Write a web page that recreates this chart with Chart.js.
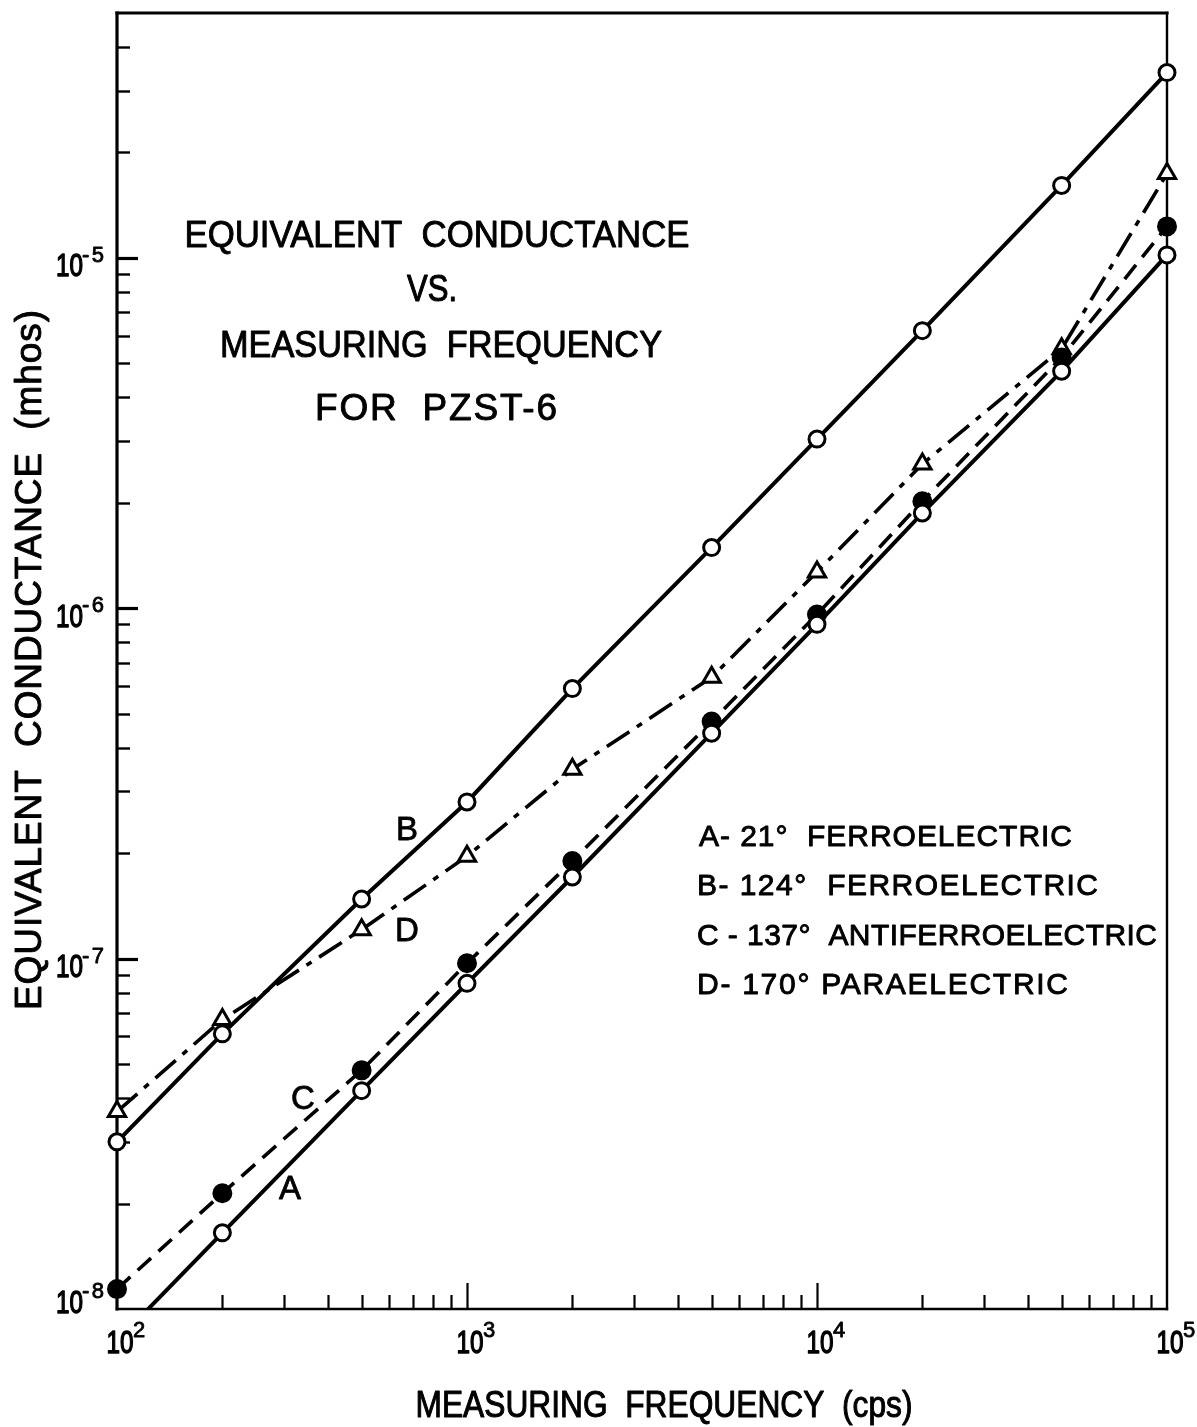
<!DOCTYPE html>
<html><head><meta charset="utf-8">
<script src="https://cdn.jsdelivr.net/npm/chart.js@4.4.0/dist/chart.umd.min.js"></script>
<style>html,body{margin:0;padding:0;background:#fff;overflow:hidden}#wrap{width:1197px;height:1427px;position:relative}</style>
</head><body><div id="wrap"><canvas id="c" width="1197" height="1427"></canvas></div>
<script>
// ---------- data ----------
const frequencies = [100, 200, 500, 1000, 2000, 5000, 10000, 20000, 50000, 100000];
const seriesA = [8.1e-9, 1.65e-8, 4.2e-8, 8.5e-8, 1.71e-7, 4.4e-7, 9.0e-7, 1.87e-6, 4.75e-6, 1.02e-5];
const seriesB = [3.0e-8, 6.1e-8, 1.48e-7, 2.8e-7, 5.9e-7, 1.49e-6, 3.04e-6, 6.2e-6, 1.61e-5, 3.38e-5];
const seriesC = [1.14e-8, 2.14e-8, 4.8e-8, 9.7e-8, 1.9e-7, 4.75e-7, 9.6e-7, 2.02e-6, 5.2e-6, 1.23e-5];
const seriesD = [3.66e-8, 6.7e-8, 1.21e-7, 1.96e-7, 3.47e-7, 6.35e-7, 1.27e-6, 2.58e-6, 5.5e-6, 1.74e-5];
const xTickExponents = [2, 3, 4, 5];
const yTickExponents = [-8, -7, -6, -5];
const xRange = [100, 100000];
const yRange = [1e-8, 5e-5];
const titleLines = ['EQUIVALENT  CONDUCTANCE', 'VS.', 'MEASURING  FREQUENCY', 'FOR  PZST-6'];
const legendLines = ['A- 21°  FERROELECTRIC', 'B- 124°  FERROELECTRIC', 'C - 137°  ANTIFERROELECTRIC', 'D- 170° PARAELECTRIC'];
const xAxisTitle = 'MEASURING  FREQUENCY  (cps)';
const yAxisTitle = 'EQUIVALENT  CONDUCTANCE  (mhos)';
const curveNames = ['A', 'B', 'C', 'D'];
// label anchor points in data units (frequency, conductance)
const curveLabelAnchorsF = [312, 674, 340, 674];
const curveLabelAnchorsG = [2.19e-8, 2.31e-7, 3.96e-8, 1.19e-7];

const pts = arr => frequencies.map((f, i) => ({x: f, y: arr[i]}));
const FONT = '"Liberation Sans", Arial, sans-serif';
const INK = '#000';

function drawFit(ctx, str, x, y, size, align, width, weight) {
  ctx.save();
  ctx.font = size + 'px ' + FONT;
  ctx.textBaseline = 'middle';
  ctx.textAlign = 'left';
  ctx.fillStyle = INK;
  ctx.strokeStyle = INK;
  ctx.lineJoin = 'round';
  const hasLS = ('letterSpacing' in ctx);
  if (hasLS) ctx.letterSpacing = '0px';
  const w0 = ctx.measureText(str).width;
  let sx = 1, ls = 0;
  if (width) {
    if (w0 > width || !hasLS) sx = width / w0;
    else ls = (width - w0) / Math.max(1, str.length - 1);
  }
  if (hasLS) ctx.letterSpacing = ls + 'px';
  const w = width ? width : w0;
  const left = align === 'left' ? x : (align === 'right' ? x - w : x - w / 2);
  ctx.translate(left, y);
  ctx.scale(sx, 1);
  ctx.fillText(str, 0, 0);
  ctx.lineWidth = (weight === undefined ? 0.8 : weight) / sx;
  if (ctx.lineWidth > 0) ctx.strokeText(str, 0, 0);
  ctx.restore();
}

const axesPlugin = {
  id: 'axesPlugin',
  beforeDatasetsDraw(chart) {
    const {ctx, chartArea: a, scales: {x, y}} = chart;
    ctx.save();
    ctx.strokeStyle = INK;
    ctx.lineCap = 'square';
    // frame
    ctx.lineWidth = 3.2;
    ctx.beginPath(); ctx.moveTo(a.left, a.top); ctx.lineTo(a.left, a.bottom); ctx.stroke();
    ctx.beginPath(); ctx.moveTo(a.left, a.top); ctx.lineTo(a.right, a.top); ctx.stroke();
    ctx.lineWidth = 2.4;
    ctx.beginPath(); ctx.moveTo(a.left, a.bottom); ctx.lineTo(a.right, a.bottom); ctx.stroke();
    ctx.beginPath(); ctx.moveTo(a.right, a.top); ctx.lineTo(a.right, a.bottom); ctx.stroke();
    ctx.lineCap = 'butt';
    // x ticks (inward)
    for (let e = xTickExponents[0]; e < xTickExponents[xTickExponents.length - 1]; e++) {
      for (let m = 1; m <= 9; m++) {
        const v = m * Math.pow(10, e);
        if (v <= xRange[0] || v >= xRange[1]) continue;
        const px = Math.round(x.getPixelForValue(v)) + 0.5;
        const len = m === 1 ? 26 : 14;
        ctx.lineWidth = 2.2;
        ctx.beginPath(); ctx.moveTo(px, a.bottom); ctx.lineTo(px, a.bottom - len); ctx.stroke();
      }
    }
    // y ticks (inward)
    for (let e = yTickExponents[0]; e <= yTickExponents[yTickExponents.length - 1]; e++) {
      for (let m = 1; m <= 9; m++) {
        const v = m * Math.pow(10, e);
        if (v <= yRange[0] * 1.001 || v >= yRange[1] * 0.999) continue;
        const py = Math.round(y.getPixelForValue(v)) + 0.5;
        const len = m === 1 ? 21 : 13;
        ctx.lineWidth = m === 1 ? 3.2 : 2.4;
        ctx.beginPath(); ctx.moveTo(a.left, py); ctx.lineTo(a.left + len, py); ctx.stroke();
      }
    }
    ctx.restore();
  },
  afterDraw(chart) {
    const {ctx, scales: {x, y}} = chart;
    // y tick labels
    yTickExponents.forEach(e => {
      const py = y.getPixelForValue(Math.pow(10, e));
      const off = (e === yTickExponents[0]) ? -5 : 10;
      drawFit(ctx, '10', 83, py + off, 31, 'right', 27, 1.1);
      drawFit(ctx, '-' + Math.abs(e), 82, py + off - 12, 22, 'left', 22, 0.8);
    });
    // x tick labels
    xTickExponents.forEach(e => {
      const px = x.getPixelForValue(Math.pow(10, e));
      drawFit(ctx, '10', px + 3, 1344, 31, 'center', 27, 1.1);
      drawFit(ctx, String(e), px + 16, 1331, 22, 'left', 14, 0.8);
    });
    // title block
    const tSpec = [[437, 237, 505], [432, 291, 50], [441, 347, 442], [436, 410, 242]];
    titleLines.forEach((t, i) => drawFit(ctx, t, tSpec[i][0], tSpec[i][1], 37, 'center', tSpec[i][2], 0.9));
    // legend block
    const lSpec = [[699, 838, 373], [697, 887, 401], [697, 937, 460], [697, 986, 371]];
    legendLines.forEach((t, i) => drawFit(ctx, t, lSpec[i][0], lSpec[i][1], 30, 'left', lSpec[i][2], 0.9));
    // curve labels
    curveNames.forEach((n, i) => {
      const px = x.getPixelForValue(curveLabelAnchorsF[i]);
      const py = y.getPixelForValue(curveLabelAnchorsG[i]);
      drawFit(ctx, n, px, py, 33, 'center', undefined, 0.8);
    });
    // axis titles
    drawFit(ctx, xAxisTitle, 664, 1407, 36, 'center', 497, 0.9);
    ctx.save();
    ctx.translate(31, 660);
    ctx.rotate(-Math.PI / 2);
    drawFit(ctx, yAxisTitle, 0, 0, 37, 'center', 700, 0.9);
    ctx.restore();
  }
};

const clipBox = {left: 16, top: 16, right: 16, bottom: 0};
const common = {borderColor: INK, pointBorderColor: INK, borderWidth: 4, pointBorderWidth: 3, tension: 0, clip: clipBox, fill: false};

new Chart(document.getElementById('c'), {
  type: 'line',
  data: {
    datasets: [
      Object.assign({}, common, {label: 'A', data: pts(seriesA), pointStyle: 'circle', pointRadius: 8, pointBackgroundColor: '#fff', order: 2}),
      Object.assign({}, common, {label: 'B', data: pts(seriesB), pointStyle: 'circle', pointRadius: 8, pointBackgroundColor: '#fff', order: 1}),
      Object.assign({}, common, {label: 'C', data: pts(seriesC), pointStyle: 'circle', pointRadius: 8.5, pointBackgroundColor: INK, borderDash: [18, 10], borderWidth: 3.6, order: 3}),
      Object.assign({}, common, {label: 'D', data: pts(seriesD), pointStyle: 'triangle', pointRadius: 10, pointBackgroundColor: '#fff', borderDash: [27, 9, 6, 9], borderWidth: 3.6, order: 4})
    ]
  },
  options: {
    responsive: false,
    animation: false,
    devicePixelRatio: 1,
    layout: {padding: {left: 117, top: 13, right: 30, bottom: 118}},
    plugins: {legend: {display: false}, tooltip: {enabled: false}, title: {display: false}},
    scales: {
      x: {type: 'logarithmic', min: xRange[0], max: xRange[1], display: false},
      y: {type: 'logarithmic', min: yRange[0], max: yRange[1], display: false}
    },
    elements: {line: {borderCapStyle: 'butt'}}
  },
  plugins: [axesPlugin]
});
</script></body></html>
